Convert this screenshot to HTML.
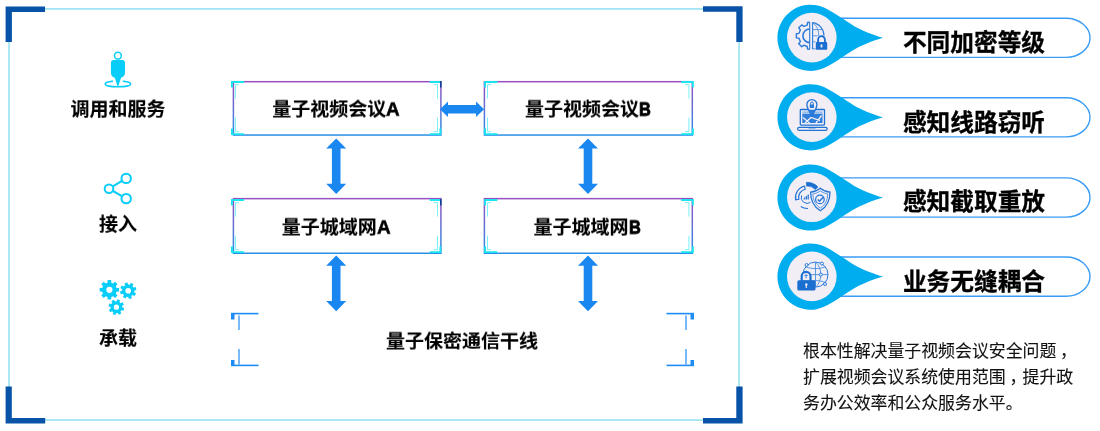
<!DOCTYPE html>
<html lang="zh-CN">
<head>
<meta charset="utf-8">
<title>量子视频会议</title>
<style>
html,body{margin:0;padding:0;background:#fff;}
body{width:1100px;height:431px;position:relative;overflow:hidden;font-family:"Liberation Sans","Noto Sans CJK SC",sans-serif;color:#000;}
#bg{position:absolute;left:0;top:0;width:1100px;height:431px;}
.t,.pt,.para{will-change:transform;}
.t{position:absolute;white-space:nowrap;font-weight:700;font-size:19px;line-height:24px;height:24px;text-align:center;color:#000;-webkit-text-stroke:0.12px #000;transform:scaleY(0.95);}
.c{position:relative;left:3.7px;top:-0.5px;}
.lab{left:37.6px;width:160px;transform:scaleY(0.97);}
.l{display:inline-block;font-size:21px;line-height:20px;transform-origin:0 50%;-webkit-text-stroke:0.6px #000;}
.la{transform:scaleX(0.9);margin-right:-1.5px;}
.lb{transform:scaleX(0.78);margin-right:-3.3px;-webkit-text-stroke:0.9px #000;}
.bx{width:210px;}
.pt{position:absolute;white-space:nowrap;font-weight:700;font-size:23.7px;line-height:30px;height:30px;left:874px;width:200px;text-align:center;color:#000;-webkit-text-stroke:0.3px #000;transform:scaleY(1.03);}
.para{position:absolute;left:802.8px;top:338.7px;width:290px;font-size:16.9px;line-height:26.15px;font-weight:400;color:#111;white-space:nowrap;-webkit-text-stroke:0.1px #111;}
</style>
</head>
<body>
<svg id="bg" width="1100" height="431" viewBox="0 0 1100 431">
<defs>
<linearGradient id="gb" x1="0" y1="0" x2="0" y2="1">
<stop offset="0" stop-color="#9850c0"/><stop offset="1" stop-color="#2a8fe6"/>
</linearGradient>
</defs>
<!-- frame -->
<rect x="9.05" y="8.85" width="730" height="411.2" fill="none" stroke="#a3e4f3" stroke-width="1.8"/>
<g fill="#0853a7">
<path d="M5.6 6.4H45V11.9H11.9V42H5.6Z"/>
<path d="M742.6 6.3H703V11.8H736.3V42.1H742.6Z"/>
<path d="M5.6 423.6H45.2V418H11.8V386.6H5.6Z"/>
<path d="M742.6 423.6H703V418H736.3V386.6H742.6Z"/>
</g>
<!-- boxes -->
<rect x="233.40" y="81.70" width="207.50" height="53.35" fill="#fff" stroke="url(#gb)" stroke-width="1.5"/>
<path d="M231.90 87.60V82.00H244.10" fill="none" stroke="#19e4f0" stroke-width="1.9"/>
<path d="M231.90 128.50V134.10H244.10" fill="none" stroke="#19e4f0" stroke-width="1.9"/>
<path d="M429.70 82.00H441.20" fill="none" stroke="#19e4f0" stroke-width="1.9"/>
<path d="M440.80 81.00V87.60" fill="none" stroke="#0c3f94" stroke-width="1.5"/>
<path d="M429.70 134.10H440.30V128.50" fill="none" stroke="#19e4f0" stroke-width="1.7"/>
<path d="M238.90 84.60H235.40V98.60M235.40 117.70V131.70H238.90" fill="none" stroke="#62edf6" stroke-width="0.85"/>
<path d="M433.50 84.60H437.50V98.60M437.50 117.70V131.70H433.50" fill="none" stroke="#62edf6" stroke-width="0.85"/>
<rect x="484.40" y="81.70" width="207.90" height="53.35" fill="#fff" stroke="url(#gb)" stroke-width="1.5"/>
<path d="M485.10 87.60V82.00H497.30" fill="none" stroke="#19e4f0" stroke-width="1.9"/>
<path d="M485.10 128.50V134.10H497.30" fill="none" stroke="#19e4f0" stroke-width="1.9"/>
<path d="M681.10 82.00H692.90V87.60" fill="none" stroke="#19e4f0" stroke-width="1.9"/>
<path d="M681.10 134.10H692.90V128.50" fill="none" stroke="#19e4f0" stroke-width="1.9"/>
<path d="M491.00 84.60H487.50V98.60M487.50 117.70V131.70H491.00" fill="none" stroke="#62edf6" stroke-width="0.85"/>
<path d="M684.90 84.60H688.90V98.60M688.90 117.70V131.70H684.90" fill="none" stroke="#62edf6" stroke-width="0.85"/>
<rect x="233.40" y="198.65" width="207.50" height="54.60" fill="#fff" stroke="url(#gb)" stroke-width="1.5"/>
<path d="M231.90 205.60V200.00H244.10" fill="none" stroke="#19e4f0" stroke-width="1.9"/>
<path d="M231.90 246.50V252.10H244.10" fill="none" stroke="#19e4f0" stroke-width="1.9"/>
<path d="M429.70 200.00H441.20" fill="none" stroke="#19e4f0" stroke-width="1.9"/>
<path d="M440.80 199.00V205.60" fill="none" stroke="#0c3f94" stroke-width="1.5"/>
<path d="M429.70 252.10H440.30V246.50" fill="none" stroke="#19e4f0" stroke-width="1.7"/>
<path d="M238.90 202.60H235.40V216.60M235.40 235.70V249.70H238.90" fill="none" stroke="#62edf6" stroke-width="0.85"/>
<path d="M433.50 202.60H437.50V216.60M437.50 235.70V249.70H433.50" fill="none" stroke="#62edf6" stroke-width="0.85"/>
<rect x="484.40" y="198.65" width="207.90" height="54.60" fill="#fff" stroke="url(#gb)" stroke-width="1.5"/>
<path d="M485.10 205.60V200.00H497.30" fill="none" stroke="#19e4f0" stroke-width="1.9"/>
<path d="M485.10 246.50V252.10H497.30" fill="none" stroke="#19e4f0" stroke-width="1.9"/>
<path d="M681.10 200.00H692.90V205.60" fill="none" stroke="#19e4f0" stroke-width="1.9"/>
<path d="M681.10 252.10H692.90V246.50" fill="none" stroke="#19e4f0" stroke-width="1.9"/>
<path d="M491.00 202.60H487.50V216.60M487.50 235.70V249.70H491.00" fill="none" stroke="#62edf6" stroke-width="0.85"/>
<path d="M684.90 202.60H688.90V216.60M688.90 235.70V249.70H684.90" fill="none" stroke="#62edf6" stroke-width="0.85"/>
<!-- arrows -->
<path d="M440 109.3L448 101.6V105H476V101.6L484 109.3L476 117V113.6H448V117Z" fill="#1a86f0"/>
<g transform="translate(336.2,138.4)">
<path d="M0 0L10 10.2H4.3V45.4H10L0 55.6L-10 45.4H-4.3V10.2H-10Z" fill="#1a86f0"/>
</g>
<g transform="translate(588,138.4)">
<path d="M0 0L10 10.2H4.3V45.4H10L0 55.6L-10 45.4H-4.3V10.2H-10Z" fill="#1a86f0"/>
</g>
<g transform="translate(336.2,255.6)">
<path d="M0 0L10 10.2H4.3V45.4H10L0 55.6L-10 45.4H-4.3V10.2H-10Z" fill="#1a86f0"/>
</g>
<g transform="translate(588,255.6)">
<path d="M0 0L10 10.2H4.3V45.4H10L0 55.6L-10 45.4H-4.3V10.2H-10Z" fill="#1a86f0"/>
</g>
<!-- brackets -->
<g transform="translate(231,313)">
<path d="M0 0.6H27.5" stroke="#1e8cf5" stroke-width="1.6" fill="none"/>
<rect x="0" y="0" width="3.5" height="6.5" fill="#1e8cf5"/>
<path d="M8 2.5V17" stroke="#1e8cf5" stroke-width="1.2" fill="none"/>
<path d="M0 52.4H27.5" stroke="#1e8cf5" stroke-width="1.6" fill="none"/>
<rect x="0" y="47" width="3.5" height="6" fill="#1e8cf5"/>
<path d="M8 36V51.5" stroke="#1e8cf5" stroke-width="1.2" fill="none"/>
</g>
<g transform="translate(925,0) scale(-1,1)"><g transform="translate(231,313)">
<path d="M0 0.6H27.5" stroke="#1e8cf5" stroke-width="1.6" fill="none"/>
<rect x="0" y="0" width="3.5" height="6.5" fill="#1e8cf5"/>
<path d="M8 2.5V17" stroke="#1e8cf5" stroke-width="1.2" fill="none"/>
<path d="M0 52.4H27.5" stroke="#1e8cf5" stroke-width="1.6" fill="none"/>
<rect x="0" y="47" width="3.5" height="6" fill="#1e8cf5"/>
<path d="M8 36V51.5" stroke="#1e8cf5" stroke-width="1.2" fill="none"/>
</g></g>
<!-- left icons -->
<g fill="#08cdf8" stroke="none">
<ellipse cx="117.9" cy="83.9" rx="12.8" ry="2.9" fill="none" stroke="#08cdf8" stroke-width="1.5"/>
<rect x="113" y="78" width="9.8" height="4.6" fill="#fff"/>
<circle cx="117.9" cy="55.7" r="3.4" fill="#fff" stroke="#08cdf8" stroke-width="1.5"/>
<path d="M113.6 60.1H122.2C124 60.1 125 61.2 125 63V72.2C125 74.6 124.2 76.2 122.2 77.2L121 77.8L118.4 86H117.4L114.8 77.8L113.6 77.2C111.7 76.2 110.9 74.6 110.9 72.2V63C110.9 61.2 111.8 60.1 113.6 60.1Z"/>
</g>
<g fill="#fff" stroke="#08cdf8" stroke-width="2">
<path d="M126.2 178.4L109 188.7L126.2 198.6" fill="none" stroke-width="2.1"/>
<circle cx="126.2" cy="178.4" r="4.7"/>
<circle cx="109" cy="188.7" r="4.3"/>
<circle cx="126.2" cy="198.6" r="4.7"/>
</g>
<g fill="#08cdf8" fill-rule="evenodd">
<path d="M107.50 282.65L107.62 280.06L111.18 280.06L111.30 282.65L113.12 283.40L115.03 281.66L117.54 284.17L115.80 286.08L116.55 287.90L119.14 288.02L119.14 291.58L116.55 291.70L115.80 293.52L117.54 295.43L115.03 297.94L113.12 296.20L111.30 296.95L111.18 299.54L107.62 299.54L107.50 296.95L105.68 296.20L103.77 297.94L101.26 295.43L103.00 293.52L102.25 291.70L99.66 291.58L99.66 288.02L102.25 287.90L103.00 286.08L101.26 284.17L103.77 281.66L105.68 283.40ZM106.30 289.80a3.10 3.10 0 1 0 6.20 0a3.10 3.10 0 1 0 -6.20 0Z"/>
<path d="M134.20 292.26L136.05 293.41L134.58 296.00L132.64 295.02L131.34 296.04L131.84 298.16L128.96 298.96L128.28 296.90L126.64 296.70L125.49 298.55L122.90 297.08L123.88 295.14L122.86 293.84L120.74 294.34L119.94 291.46L122.00 290.78L122.20 289.14L120.35 287.99L121.82 285.40L123.76 286.38L125.06 285.36L124.56 283.24L127.44 282.44L128.12 284.50L129.76 284.70L130.91 282.85L133.50 284.32L132.52 286.26L133.54 287.56L135.66 287.06L136.46 289.94L134.40 290.62ZM125.40 290.70a2.80 2.80 0 1 0 5.60 0a2.80 2.80 0 1 0 -5.60 0Z"/>
<path d="M122.30 307.40L124.25 308.08L123.43 310.80L121.42 310.29L120.43 311.51L121.33 313.38L118.83 314.72L117.77 312.94L116.20 313.10L115.52 315.05L112.80 314.23L113.31 312.22L112.09 311.23L110.22 312.13L108.88 309.63L110.66 308.57L110.50 307.00L108.55 306.32L109.37 303.60L111.38 304.11L112.37 302.89L111.47 301.02L113.97 299.68L115.03 301.46L116.60 301.30L117.28 299.35L120.00 300.17L119.49 302.18L120.71 303.17L122.58 302.27L123.92 304.77L122.14 305.83ZM113.80 307.20a2.60 2.60 0 1 0 5.20 0a2.60 2.60 0 1 0 -5.20 0Z"/>
</g>
<!-- pills -->
<g transform="translate(777.5,37.8)">
<path d="M40 -19.6H288.5A24 19.6 0 0 1 288.5 19.6H40" fill="#fff" stroke="#3a9cf5" stroke-width="1.4"/>
<path d="M47 -30C55 -26.3 68 -17.06 76 -12.1C82 -8.5 95.5 -2.7 105.5 0C95.5 2.7 82 8.5 76 12.1C68 17.06 55 26.3 47 30A33.1 33.1 0 1 1 47 -30Z" fill="#00adef"/>
<circle cx="34.3" cy="-0.2" r="24.8" fill="#f1eef5"/>
</g>
<g transform="translate(777.5,117.3)">
<path d="M40 -19.6H288.5A24 19.6 0 0 1 288.5 19.6H40" fill="#fff" stroke="#3a9cf5" stroke-width="1.4"/>
<path d="M47 -30C55 -26.3 68 -17.06 76 -12.1C82 -8.5 95.5 -2.7 105.5 0C95.5 2.7 82 8.5 76 12.1C68 17.06 55 26.3 47 30A33.1 33.1 0 1 1 47 -30Z" fill="#00adef"/>
<circle cx="34.3" cy="-0.2" r="24.8" fill="#f1eef5"/>
</g>
<g transform="translate(777.5,197.5)">
<path d="M40 -19.6H288.5A24 19.6 0 0 1 288.5 19.6H40" fill="#fff" stroke="#3a9cf5" stroke-width="1.4"/>
<path d="M47 -30C55 -26.3 68 -17.06 76 -12.1C82 -8.5 95.5 -2.7 105.5 0C95.5 2.7 82 8.5 76 12.1C68 17.06 55 26.3 47 30A33.1 33.1 0 1 1 47 -30Z" fill="#00adef"/>
<circle cx="34.3" cy="-0.2" r="24.8" fill="#f1eef5"/>
</g>
<g transform="translate(777.5,276.6)">
<path d="M40 -19.6H288.5A24 19.6 0 0 1 288.5 19.6H40" fill="#fff" stroke="#3a9cf5" stroke-width="1.4"/>
<path d="M47 -30C55 -26.3 68 -17.06 76 -12.1C82 -8.5 95.5 -2.7 105.5 0C95.5 2.7 82 8.5 76 12.1C68 17.06 55 26.3 47 30A33.1 33.1 0 1 1 47 -30Z" fill="#00adef"/>
<circle cx="34.3" cy="-0.2" r="24.8" fill="#f1eef5"/>
</g>
<!-- icon 1: gear + globe + lock -->
<g fill="none" stroke="#2a7bd8" stroke-width="1">
<g transform="translate(809.7,35.8)">
<path d="M0.00 -13.50L-2.11 -13.33L-2.48 -10.72L-5.82 -9.33L-7.94 -10.92L-10.92 -7.94L-9.33 -5.82L-10.72 -2.48L-13.33 -2.11L-13.33 2.11L-10.72 2.48L-9.33 5.82L-10.92 7.94L-7.94 10.92L-5.82 9.33L-2.48 10.72L-2.11 13.33L0.00 13.50" stroke-width="1.4" stroke-linejoin="round"/>
<path d="M0 -6.8A6.8 6.8 0 0 0 0 6.8" stroke-width="1.6"/>
<path d="M0 -13.6V13.4" stroke-width="1.1"/>
</g>
<g transform="translate(812.6,35.8)" stroke="#4a90e0">
<path d="M0 -13.6V13.4" stroke="#2a7bd8" stroke-width="1.1"/>
<path d="M0 -13.2A13.2 13.2 0 0 1 11.4 0" stroke="#2a7bd8" stroke-width="1.1"/>
<path d="M0 -13C4.6 -10 6.3 -5 6 0" stroke-width="0.9"/>
<path d="M0 -6.2H9.6M0 0H5M0 6H3" stroke-width="0.9"/>
<path d="M0 13H3"/>
</g>
</g>
<g transform="translate(821.5,42.2)">
<rect x="-5.7" y="-0.2" width="11.4" height="7.7" rx="1" fill="#1a6fd0"/>
<path d="M-3.4 0.5V-2.6A3.4 3.4 0 0 1 3.4 -2.6V0.5" fill="none" stroke="#1a6fd0" stroke-width="1.8"/>
<rect x="-0.9" y="2" width="1.8" height="3.4" rx="0.7" fill="#f1eef5"/>
</g>
<!-- icon 2: laptop + pin -->
<g fill="none" stroke="#1f72d4" stroke-width="1.3">
<rect x="800.3" y="109.5" width="24.2" height="15.6" rx="0.8" fill="#f1eef5"/>
<rect x="802.3" y="113.6" width="20.2" height="9.4" fill="#2f7fdb" stroke="none"/>
<rect x="802.3" y="111.4" width="20.2" height="1.5" fill="#8db8ea" stroke="none"/>
<path d="M805 123L811 117.5L820 120.6M803 117.5L809.5 123M816 123L821.5 115.5" stroke="#f1eef5" stroke-width="1.3"/>
<rect x="797.7" y="127.3" width="29.4" height="3.1" rx="1.5"/>
<path d="M808.6 127.9H815.6" stroke-width="1"/>
<path d="M811.9 115.8C809.3 111.6 806.9 108.4 806.9 104.6A5 5 0 0 1 816.9 104.6C816.9 108.4 814.5 111.6 811.9 115.8Z" fill="#f1eef5" stroke-width="1.3"/>
<path d="M811.9 115.8L808.3 109.8H815.5Z" fill="#2a7bd8" stroke="none"/>
<rect x="809.7" y="104.5" width="4.4" height="3.4" rx="0.4" fill="#2a7bd8" stroke="none"/>
<path d="M810.6 104.8V103.3A1.3 1.3 0 0 1 813.2 103.3V104.8" stroke-width="1"/>
</g>
<!-- icon 3: chart + shield -->
<g fill="none" stroke="#2475d6" stroke-width="1.2">
<path d="M795.75 199.91 A11.6 11.6 0 0 1 804.49 186.20 L805.19 189.22 A8.5 8.5 0 0 0 798.79 199.27 Z"/>
<path d="M806.30 182.32 A15.2 15.2 0 0 1 818.03 186.94 L815.30 189.58 A11.4 11.4 0 0 0 806.50 186.12 Z" fill="#1a6fd0" stroke="#1a6fd0" stroke-width="0.6"/>
<path d="M810.48 202.33 A5.9 5.9 0 0 1 801.56 195.48" stroke-width="1"/>
<path d="M808.06 208.46 A11.6 11.6 0 0 1 800.79 206.51"/>
<path d="M804.4 199.4V197.4M806.3 199.4V196M808.2 199.4V194.4" stroke-width="1.3"/>
<path d="M820.3 188.2C817.4 190.7 814.4 191.8 810.6 192.1C810.6 199.6 812.7 206.3 820.3 210.8C827.9 206.3 830 199.6 830 192.1C826.2 191.8 823.2 190.7 820.3 188.2Z" fill="#f1eef5" stroke-width="1.3"/>
<path d="M820.3 190.9C818 192.6 815.6 193.5 812.9 193.9C813.1 199.6 814.8 204.6 820.3 208C825.8 204.6 827.5 199.6 827.7 193.9C825 193.5 822.6 192.6 820.3 190.9Z" stroke-width="0.7"/>
<circle cx="819.9" cy="199.4" r="4.3" stroke-width="1.2"/>
<path d="M817.8 199.4L819.5 201.2L823.5 196.9" stroke-width="1.5"/>
</g>
<!-- icon 4: lock + globe network -->
<g fill="none" stroke="#2a7bd8" stroke-width="1">
<circle cx="815.5" cy="274.6" r="12.5"/>
<path d="M815.5 262.1V287.1M803 274.6H828M805.8 266.8C811.5 269.2 819.5 269.2 825.2 266.8M805.8 282.4C811.5 280 819.5 280 825.2 282.4" stroke="#4a90e0" stroke-width="0.9"/>
<path d="M815.5 262.1C822.6 267.6 822.6 281.6 815.5 287.1" stroke="#4a90e0" stroke-width="0.9"/>
<circle cx="806.6" cy="265" r="1.5" fill="#f1eef5"/>
<circle cx="821.9" cy="263.6" r="1.5" fill="#f1eef5"/>
<circle cx="820.8" cy="274.6" r="1.5" fill="#f1eef5"/>
<circle cx="825" cy="284" r="1.5" fill="#f1eef5"/>
</g>
<g>
<path d="M801.7 281.5V276.3A4.4 4.4 0 0 1 810.5 276.3V281.5Z" fill="#f1eef5" stroke="#1a6fd0" stroke-width="2.2"/>
<path d="M806.1 274V278.4M804.3 275.6H807.9" stroke="#2a7bd8" stroke-width="0.8" fill="none"/>
<rect x="797.3" y="280.3" width="18.2" height="10.3" rx="1.6" fill="#1a6fd0"/>
<circle cx="806.3" cy="284.4" r="1.2" fill="#f1eef5"/>
<rect x="805.7" y="284.6" width="1.2" height="3.4" rx="0.5" fill="#f1eef5"/>
</g>
</svg>
<div class="t lab" style="top:97.8px">调用和服务</div>
<div class="t lab" style="top:212.5px">接入</div>
<div class="t lab" style="top:326.5px">承载</div>
<div class="t bx" style="left:231.3px;top:98.2px">量子视频会议<span class="l la">A</span></div>
<div class="t bx" style="left:482.9px;top:98.2px">量子视频会议<span class="l lb">B</span></div>
<div class="t bx" style="left:231.3px;top:215.8px">量子城域网<span class="l la">A</span></div>
<div class="t bx" style="left:482.4px;top:215.8px">量子城域网<span class="l lb">B</span></div>
<div class="t" style="left:312px;width:300px;top:329.5px">量子保密通信干线</div>
<div class="pt" style="top:27.6px">不同加密等级</div>
<div class="pt" style="top:107.9px">感知线路窃听</div>
<div class="pt" style="top:187.3px">感知截取重放</div>
<div class="pt" style="top:266.6px">业务无缝耦合</div>
<div class="para">根本性解决量子视频会议安全问题<span class="c">，</span><br>扩展视频会议系统使用范围<span class="c">，</span>提升政<br>务办公效率和公众服务水平。</div>
</body>
</html>
